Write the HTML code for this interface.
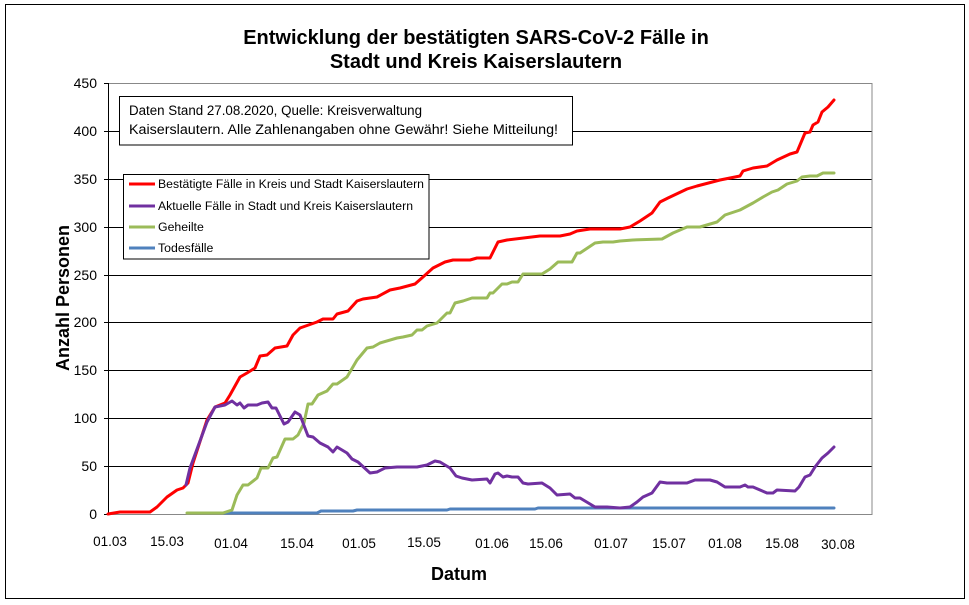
<!DOCTYPE html>
<html><head><meta charset="utf-8"><style>
html,body{margin:0;padding:0;background:#fff}
svg{display:block}
</style></head><body>
<svg width="969" height="605" viewBox="0 0 969 605" xmlns="http://www.w3.org/2000/svg" font-family="Liberation Sans, Arial, sans-serif">
<rect x="0" y="0" width="969" height="605" fill="#fff"/>
<rect x="5.5" y="4.5" width="959" height="594" fill="#fff" stroke="#000" stroke-width="1"/>
<text x="476" y="44" text-anchor="middle" font-size="20" font-weight="bold">Entwicklung der bestätigten SARS-CoV-2 Fälle in</text>
<text x="476" y="68" text-anchor="middle" font-size="20" font-weight="bold">Stadt und Kreis Kaiserslautern</text>
<g stroke="#000" stroke-width="1">
<line x1="108" y1="131.5" x2="872" y2="131.5"/>
<line x1="108" y1="179.5" x2="872" y2="179.5"/>
<line x1="108" y1="227.5" x2="872" y2="227.5"/>
<line x1="108" y1="275.5" x2="872" y2="275.5"/>
<line x1="108" y1="322.5" x2="872" y2="322.5"/>
<line x1="108" y1="370.5" x2="872" y2="370.5"/>
<line x1="108" y1="418.5" x2="872" y2="418.5"/>
<line x1="108" y1="466.5" x2="872" y2="466.5"/>
<line x1="104" y1="83.5" x2="108" y2="83.5"/>
<line x1="104" y1="131.5" x2="108" y2="131.5"/>
<line x1="104" y1="179.5" x2="108" y2="179.5"/>
<line x1="104" y1="227.5" x2="108" y2="227.5"/>
<line x1="104" y1="275.5" x2="108" y2="275.5"/>
<line x1="104" y1="322.5" x2="108" y2="322.5"/>
<line x1="104" y1="370.5" x2="108" y2="370.5"/>
<line x1="104" y1="418.5" x2="108" y2="418.5"/>
<line x1="104" y1="466.5" x2="108" y2="466.5"/>
<line x1="104" y1="514.5" x2="108" y2="514.5"/>
</g>
<rect x="108.5" y="83.5" width="763.5" height="431" fill="none" stroke="#888" stroke-width="1"/>
<line x1="108.5" y1="83" x2="108.5" y2="514" stroke="#000"/>
<g font-size="14" text-anchor="end">
<text x="97" y="88">450</text><text x="97" y="136">400</text><text x="97" y="184">350</text>
<text x="97" y="232">300</text><text x="97" y="280">250</text><text x="97" y="327">200</text>
<text x="97" y="375">150</text><text x="97" y="423">100</text><text x="97" y="471">50</text>
<text x="97" y="519">0</text>
</g>
<g font-size="13.5" text-anchor="middle">
<text x="110" y="546">01.03</text><text x="167" y="546">15.03</text><text x="231" y="548">01.04</text>
<text x="297" y="548">15.04</text><text x="359" y="548">01.05</text><text x="424" y="547">15.05</text>
<text x="492" y="548">01.06</text><text x="546" y="548">15.06</text><text x="611" y="548">01.07</text>
<text x="669" y="548">15.07</text><text x="725" y="548">01.08</text><text x="782" y="548">15.08</text>
<text x="838" y="549">30.08</text>
</g>
<text x="459" y="580" text-anchor="middle" font-size="18" font-weight="bold">Datum</text>
<text transform="translate(69,298) rotate(-90)" text-anchor="middle" font-size="18" font-weight="bold">Anzahl Personen</text>
<g fill="none" stroke-width="3" stroke-linejoin="round" stroke-linecap="round">
<polyline stroke="#4f81bd" points="223,513 317,513 321,511 353,511 357,510 447,510 450,509 535,509 538,508 834,508"/>
<polyline stroke="#9bbb59" points="187,513 223,513 232,510 237,495 243,485 248,485 257,478 261,468 268,468 273,458 277,457 285,439 293,439 298,435 304,423 308,404 312,404 318,395 327,391 333,384 337,384 347,377 357,360 367,348 373,347 380,343 397,338 403,337 412,335 417,330 422,330 427,326 437,323 447,313 450,313 455,303 463,301 472,298 487,298 490,293 493,293 502,284 507,284 512,282 518,282 523,274 542,274 550,269 558,262 572,262 577,253 580,253 595,243 603,242 613,242 620,241 633,240 662,239 673,233 687,227 700,227 717,222 725,215 740,210 753,203 763,197 772,192 778,190 787,184 797,181 802,177 810,176 817,176 823,173 834,173"/>
<polyline stroke="#ff0000" points="108,514 120,512 150,512 157,507 167,497 177,490 183,488 188,483 193,463 207,420 215,407 225,403 230,395 240,377 247,373 255,368 260,356 267,355 275,348 287,346 293,335 300,328 317,322 323,319 333,319 337,314 348,311 357,301 363,299 377,297 390,290 400,288 415,284 423,277 433,268 445,262 453,260 470,260 477,258 490,258 498,242 507,240 540,236 560,236 570,234 577,231 590,229 620,229 630,227 640,221 652,213 660,202 668,198 687,189 697,186 720,180 740,176 743,171 753,168 767,166 777,160 790,154 797,152 805,133 810,132 813,125 818,122 822,112 828,107 834,100"/>
<polyline stroke="#7030a0" points="186,485 190,468 207,422 215,407 225,405 232,401 237,405 240,403 244,408 248,405 257,405 262,403 268,402 272,408 276,408 284,424 288,422 295,412 300,415 308,436 313,437 320,443 328,447 333,452 337,447 347,453 352,459 358,462 370,473 377,472 385,468 397,467 417,467 427,465 435,461 440,462 450,468 456,476 462,478 472,480 487,479 490,483 495,474 498,473 503,477 507,476 512,477 518,477 523,483 528,484 542,483 550,488 557,495 570,494 575,498 580,498 595,507 607,507 620,508 630,507 637,502 643,497 652,493 660,482 667,483 687,483 695,480 710,480 717,482 725,487 740,487 745,485 748,487 753,487 767,493 773,493 777,490 795,491 799,487 805,477 810,475 815,467 822,458 828,453 834,447"/>
</g>
<rect x="119.5" y="96.5" width="453" height="48.5" fill="#fff" stroke="#000"/>
<text x="129" y="115" font-size="13.5" textLength="293" lengthAdjust="spacingAndGlyphs">Daten Stand 27.08.2020, Quelle: Kreisverwaltung</text>
<text x="129" y="134" font-size="13.5" textLength="429" lengthAdjust="spacingAndGlyphs">Kaiserslautern. Alle Zahlenangaben ohne Gewähr! Siehe Mitteilung!</text>
<rect x="123.5" y="174.5" width="305.5" height="84.5" fill="#fff" stroke="#000"/>
<g stroke-width="3">
<line x1="129" y1="184" x2="155" y2="184" stroke="#ff0000"/>
<line x1="129" y1="206" x2="155" y2="206" stroke="#7030a0"/>
<line x1="129" y1="227" x2="155" y2="227" stroke="#9bbb59"/>
<line x1="129" y1="248" x2="155" y2="248" stroke="#4f81bd"/>
</g>
<g font-size="12.3">
<text x="158" y="188" textLength="266" lengthAdjust="spacingAndGlyphs">Bestätigte Fälle in Kreis und Stadt Kaiserslautern</text>
<text x="158" y="210" textLength="255" lengthAdjust="spacingAndGlyphs">Aktuelle Fälle in Stadt und Kreis Kaiserslautern</text>
<text x="158" y="231">Geheilte</text>
<text x="158" y="252">Todesfälle</text>
</g>
</svg>
</body></html>
